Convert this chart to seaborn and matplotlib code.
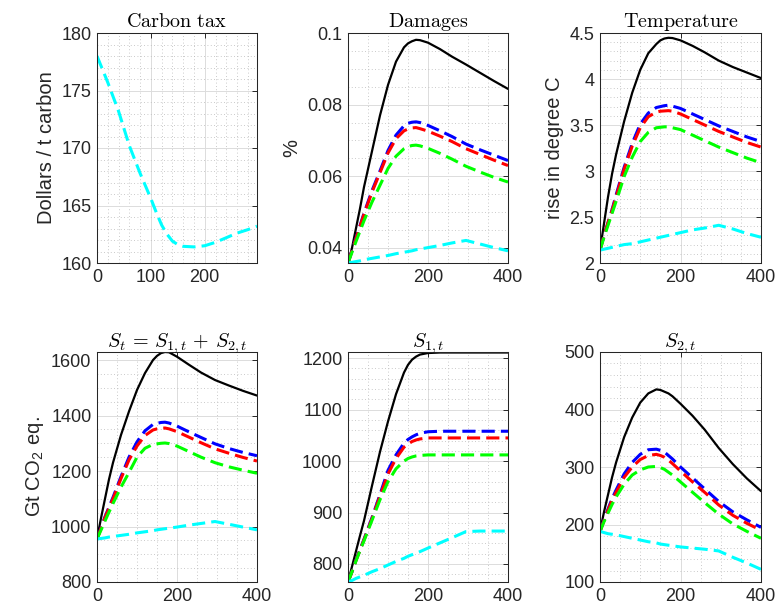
import numpy as np
import pandas as pd
import matplotlib
matplotlib.use("Agg")
import matplotlib.pyplot as plt
import seaborn as sns
from matplotlib.ticker import MultipleLocator, FuncFormatter

# ---------------- data ----------------
years = [0, 10, 20, 30, 40, 60, 80, 100, 120, 140, 150, 160, 170, 180, 200, 230, 260, 295, 330, 365, 400]
scenarios = ["black", "blue", "red", "green", "cyan"]

tax_years = [0, 20, 40, 60, 80, 100, 110, 120, 130, 140, 150, 160, 180, 200, 220, 240, 260, 280, 297]
tax_cyan = [178.0, 175.7, 173.2, 170.2, 167.8, 165.6, 164.4, 163.3, 162.5, 161.9, 161.6, 161.45,
            161.4, 161.5, 161.8, 162.2, 162.6, 162.9, 163.2]

dam_black = [0.0358, 0.0400, 0.0455, 0.0510, 0.0570, 0.0670, 0.0770, 0.0855, 0.0920, 0.0960,
             0.0971, 0.0977, 0.0981, 0.0980, 0.0973, 0.0955, 0.0934, 0.0912, 0.0889, 0.0866, 0.0844]
dam_blue = [0.0358, 0.0393, 0.0428, 0.0462, 0.0497, 0.0560, 0.0615, 0.0672, 0.0715, 0.0741,
            0.0748, 0.0751, 0.0752, 0.0750, 0.0742, 0.0727, 0.0711, 0.0690, 0.0674, 0.0659, 0.0644]
dam_red = [0.0358, 0.0392, 0.0426, 0.0460, 0.0494, 0.0556, 0.0610, 0.0665, 0.0705, 0.0727,
           0.0732, 0.0735, 0.0736, 0.0733, 0.0726, 0.0712, 0.0697, 0.0677, 0.0661, 0.0645, 0.0630]
dam_green = [0.0358, 0.0388, 0.0418, 0.0447, 0.0476, 0.0528, 0.0575, 0.0622, 0.0656, 0.0677,
             0.0683, 0.0686, 0.0687, 0.0685, 0.0678, 0.0664, 0.0648, 0.0628, 0.0612, 0.0597, 0.0584]
dam_cyan = [0.0358, 0.0360, 0.0362, 0.0364, 0.0367, 0.0371, 0.0375, 0.0379, 0.0384, 0.0388,
            0.0390, 0.0392, 0.0395, 0.0397, 0.0401, 0.0407, 0.0414, 0.0421, 0.0411, 0.0401, 0.0392]

tmp_black = [2.14, 2.43, 2.72, 2.97, 3.18, 3.54, 3.85, 4.10, 4.28, 4.38, 4.42, 4.44, 4.448,
             4.445, 4.42, 4.36, 4.29, 4.20, 4.13, 4.07, 4.01]
tmp_blue = [2.14, 2.30, 2.44, 2.58, 2.74, 3.04, 3.30, 3.51, 3.63, 3.69, 3.70, 3.71, 3.715,
            3.705, 3.68, 3.62, 3.56, 3.49, 3.43, 3.37, 3.32]
tmp_red = [2.14, 2.30, 2.44, 2.57, 2.72, 3.02, 3.27, 3.47, 3.59, 3.64, 3.65, 3.653, 3.656,
           3.65, 3.62, 3.56, 3.50, 3.43, 3.37, 3.31, 3.26]
tmp_green = [2.14, 2.28, 2.41, 2.54, 2.67, 2.94, 3.15, 3.32, 3.42, 3.47, 3.475, 3.48, 3.48,
             3.47, 3.45, 3.39, 3.33, 3.26, 3.20, 3.14, 3.09]
tmp_cyan = [2.14, 2.15, 2.16, 2.17, 2.18, 2.20, 2.21, 2.23, 2.25, 2.27, 2.28, 2.29, 2.30,
            2.31, 2.33, 2.36, 2.38, 2.41, 2.37, 2.32, 2.28]

st_black = [955, 1030, 1100, 1170, 1230, 1330, 1415, 1492, 1553, 1600, 1615, 1625, 1629,
            1628, 1612, 1583, 1555, 1528, 1508, 1489, 1472]
st_blue = [955, 995, 1035, 1070, 1105, 1180, 1250, 1305, 1345, 1368, 1372, 1375, 1376,
           1373, 1362, 1341, 1321, 1298, 1281, 1267, 1255]
st_red = [955, 993, 1032, 1066, 1100, 1173, 1240, 1290, 1328, 1348, 1352, 1354, 1355,
          1352, 1342, 1322, 1302, 1280, 1264, 1249, 1236]
st_green = [955, 987, 1020, 1052, 1083, 1142, 1195, 1250, 1282, 1296, 1298, 1300, 1301,
            1299, 1290, 1270, 1250, 1230, 1215, 1203, 1192]
st_cyan = [955, 957, 959, 962, 964, 968, 972, 977, 981, 985, 988, 990, 992, 994, 998,
           1005, 1011, 1018, 1008, 998, 988]

s1_black = [765, 795, 825, 855, 884, 952, 1018, 1077, 1130, 1172, 1187, 1197, 1203, 1207, 1210,
            1211, 1211, 1211, 1211, 1211, 1211]
s1_blue = [765, 785, 808, 828, 848, 890, 935, 982, 1012, 1035, 1042, 1047, 1051, 1054, 1057,
           1058, 1058, 1058, 1058, 1058, 1058]
s1_red = [765, 785, 807, 827, 847, 888, 932, 975, 1005, 1027, 1033, 1038, 1041, 1043, 1045,
          1045, 1045, 1045, 1045, 1045, 1045]
s1_green = [765, 785, 806, 826, 845, 885, 925, 960, 985, 1000, 1005, 1008, 1010, 1011, 1012,
            1012, 1012, 1012, 1012, 1012, 1012]
s1_cyan = [765, 768, 772, 775, 778, 785, 791, 798, 805, 811, 815, 818, 821, 824, 831,
           841, 851, 863, 864, 864, 864]

s2_black = [188, 222, 252, 282, 308, 352, 386, 412, 428, 435, 434, 431, 428, 423, 410,
            389, 365, 333, 305, 280, 258]
s2_blue = [188, 208, 227, 245, 260, 288, 308, 322, 330, 331, 329, 326, 320, 314, 300,
           281, 262, 240, 222, 208, 195]
s2_red = [188, 207, 225, 242, 256, 282, 300, 313, 320, 322, 320, 317, 312, 306, 293,
          274, 256, 234, 216, 202, 190]
s2_green = [188, 205, 220, 235, 248, 270, 286, 295, 300, 301, 299, 296, 291, 286, 274,
            256, 238, 218, 201, 188, 176]
s2_cyan = [188, 186, 184, 183, 182, 179, 176, 173, 170, 168, 166, 165, 164, 163, 161,
           159, 157, 154, 143, 133, 122]

# ---------------- style ----------------
sns.set_style("white")
plt.rcParams["font.family"] = ["Liberation Sans", "DejaVu Sans"]
plt.rcParams["mathtext.fontset"] = "cm"

INK = "#262626"
palette = {"black": "#000000", "blue": "#0000ff", "red": "#ff0000",
           "green": "#00ff00", "cyan": "#00ffff"}
dashes = {"black": "", "blue": (4.3, 2), "red": (4.3, 2), "green": (4.3, 2), "cyan": (4.3, 2)}
sizes = {"black": 1.6, "blue": 2.2, "red": 2.2, "green": 2.2, "cyan": 2.2}

fig = plt.figure(figsize=(7.76, 6.14), dpi=100)
W, H = 776.0, 614.0


def make_ax(left, top, width=160, height=230):
    return fig.add_axes([left / W, (H - top - height) / H, width / W, height / H])


def panel_df(x, series):
    frames = [pd.DataFrame({"year": x, "value": vals, "scenario": name})
              for name, vals in series.items()]
    return pd.concat(frames, ignore_index=True)


def draw(ax, x, series):
    df = panel_df(x, series)
    order = [s for s in scenarios if s in series]
    sns.lineplot(data=df, x="year", y="value", hue="scenario", style="scenario",
                 size="scenario", hue_order=order, style_order=order, size_order=order,
                 palette=palette, dashes=dashes, sizes=sizes, legend=False,
                 estimator=None, sort=False, ax=ax)


def style(ax, xlim, ylim, xmaj, xmin, ymaj, ymin, title, ylabel=None):
    ax.set_xlim(*xlim)
    ax.set_ylim(*ylim)
    ax.xaxis.set_major_locator(MultipleLocator(xmaj))
    ax.xaxis.set_minor_locator(MultipleLocator(xmin))
    ax.yaxis.set_major_locator(MultipleLocator(ymaj))
    ax.yaxis.set_minor_locator(MultipleLocator(ymin))
    fmt = FuncFormatter(lambda v, p: "%g" % round(v, 6))
    ax.xaxis.set_major_formatter(fmt)
    ax.yaxis.set_major_formatter(fmt)
    ax.set_axisbelow(True)
    ax.grid(which="major", color="#dcdcdc", lw=0.7, ls="-")
    ax.grid(which="minor", color="#b8b8b8", lw=0.6, ls=(0, (1, 3)))
    ax.tick_params(which="major", direction="in", length=3.5, width=0.7, color=INK,
                   top=True, right=True, labelsize=13, labelcolor=INK, pad=4)
    ax.tick_params(which="minor", length=0)
    for sp in ax.spines.values():
        sp.set_color(INK)
        sp.set_linewidth(0.75)
        sp.set_visible(True)
    ax.set_xlabel("")
    ax.set_ylabel(ylabel if ylabel else "", fontsize=14.5, color=INK)
    ax.set_title(title, fontsize=14.5, pad=4, color="#000000")


# Carbon tax
ax1 = make_ax(97, 33)
draw(ax1, tax_years, {"cyan": tax_cyan})
style(ax1, (0, 297), (160, 180), 100, 20, 5, 1, r"$\mathrm{Carbon\ tax}$", "Dollars / t carbon")

# Damages
ax2 = make_ax(348, 33)
draw(ax2, years, {"black": dam_black, "blue": dam_blue, "red": dam_red,
                  "green": dam_green, "cyan": dam_cyan})
style(ax2, (0, 400), (0.0358, 0.1), 200, 50, 0.02, 0.005, r"$\mathrm{Damages}$", "%")

# Temperature
ax3 = make_ax(600, 33, width=161)
draw(ax3, years, {"black": tmp_black, "blue": tmp_blue, "red": tmp_red,
                  "green": tmp_green, "cyan": tmp_cyan})
style(ax3, (0, 400), (2, 4.5), 200, 50, 0.5, 0.1, r"$\mathrm{Temperature}$", "rise in degree C")

# S_t
ax4 = make_ax(97, 352)
draw(ax4, years, {"black": st_black, "blue": st_blue, "red": st_red,
                  "green": st_green, "cyan": st_cyan})
style(ax4, (0, 400), (800, max(st_black)), 200, 50, 200, 50,
      r"$S_t\,=\,S_{1,t}\,+\,S_{2,t}$", r"Gt CO$_\mathregular{2}$ eq.")

# S_1
ax5 = make_ax(348, 352)
draw(ax5, years, {"black": s1_black, "blue": s1_blue, "red": s1_red,
                  "green": s1_green, "cyan": s1_cyan})
style(ax5, (0, 400), (min(s1_black), max(s1_black) + 1), 200, 50, 100, 20, r"$S_{1,t}$")

# S_2
ax6 = make_ax(600, 352, width=161)
draw(ax6, years, {"black": s2_black, "blue": s2_blue, "red": s2_red,
                  "green": s2_green, "cyan": s2_cyan})
style(ax6, (0, 400), (100, 500), 200, 50, 100, 20, r"$S_{2,t}$")

fig.savefig("out.png", dpi=100, facecolor="white")
